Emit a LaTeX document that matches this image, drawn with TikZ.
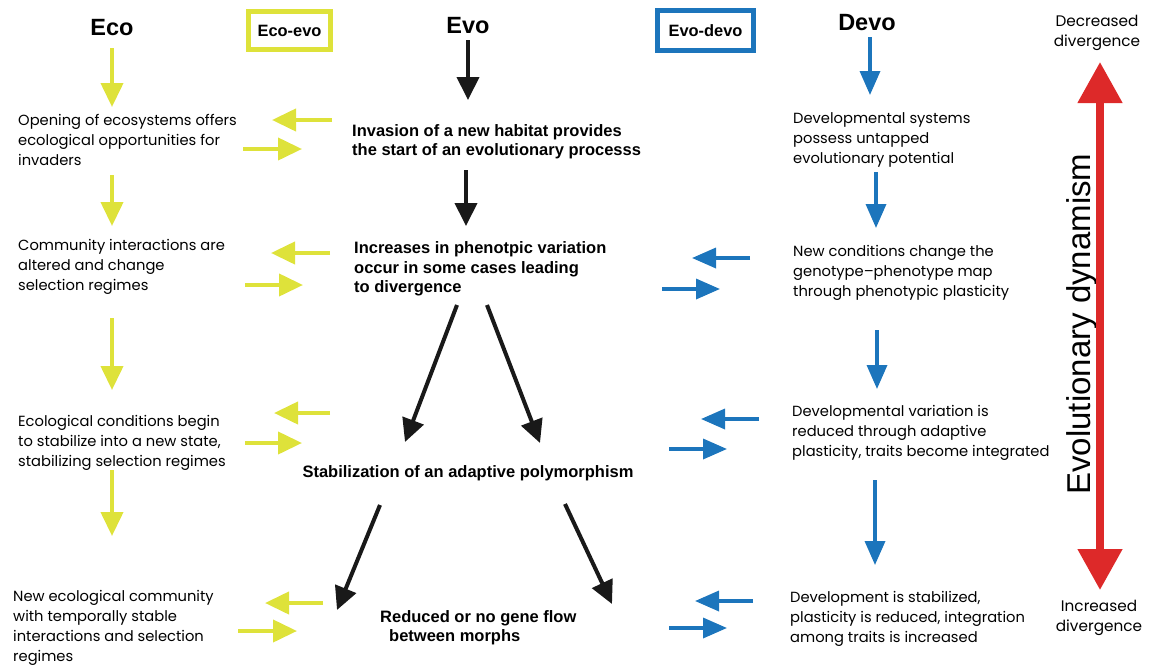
\documentclass[tikz,border=0pt]{standalone}
\usepackage{fontspec}
\setmainfont{Liberation Sans}
\newfontfamily\gothic{Poppins}
\usetikzlibrary{arrows.meta}

\definecolor{ecoyellow}{RGB}{222,226,58}
\definecolor{devoblue}{RGB}{28,117,188}
\definecolor{dynred}{RGB}{221,41,41}

\begin{document}
\begin{tikzpicture}[x=1pt,y=-1pt,
   title/.style={font=\bfseries\fontsize{23.5}{26}\selectfont, anchor=base},
   boxtitle/.style={draw, line width=5pt, font=\bfseries\fontsize{16.4}{18}\selectfont},
   plain/.style={font=\gothic\fontsize{14.7}{20}\selectfont, align=left, anchor=west, inner sep=0},
   evotext/.style={font=\bfseries\fontsize{16.5}{19.3}\selectfont, align=left, anchor=west, inner sep=0},
   ecoarr/.style={ecoyellow, line width=4pt, -{Triangle[length=24pt,width=22pt]}},
   evoarr/.style={black!90, line width=4pt, -{Triangle[length=23pt,width=22pt]}},
   devoarr/.style={devoblue, line width=3.5pt, -{Triangle[length=24pt,width=20pt]}}]
   \useasboundingbox (0,0) rectangle (1151,667);
   % column titles
   \node (eco) at (112,35) [title] {Eco};
   \node (evo) at (468,33) [title] {Evo};
   \node (devo) at (867,30) [title] {Devo};
   \node (ecoevo) at (289.5,30.5) [boxtitle, draw=ecoyellow, minimum width=82pt, minimum height=38pt] {Eco-evo};
   \node (evodevo) at (705.5,30.5) [boxtitle, draw=devoblue, minimum width=96pt, minimum height=40pt] {Evo-devo};
   % eco column
   \node (eco1) at (18,140) [plain] {Opening of ecosystems offers\\ecological opportunities for\\invaders};
   \node (eco2) at (18,267) [plain] {Community interactions are\\altered and change\\selection regimes};
   \node (eco3) at (18,443) [plain] {Ecological conditions begin\\to stabilize into a new state,\\stabilizing selection regimes};
   \node (eco4) at (13,628) [plain] {New ecological community\\with temporally stable\\interactions and selection\\regimes};
   % evo column
   \node (evo1) at (352,142) [evotext] {Invasion of a new habitat provides\\the start of an evolutionary processs};
   \node (evo2) at (354,269) [evotext] {Increases in phenotpic variation\\occur in some cases leading\\to divergence};
   \node (evo3) at (468,473) [evotext, anchor=center] {Stabilization of an adaptive polymorphism};
   \node (evo4) at (380,628) [evotext] {Reduced or no gene flow\\\hspace*{9pt}between morphs};
   % devo column
   \node (devo1) at (793,140) [plain] {Developmental systems\\possess untapped\\evolutionary potential};
   \node (devo2) at (793,273) [plain] {New conditions change the\\genotype–phenotype map\\through phenotypic plasticity};
   \node (devo3) at (792,433) [plain] {Developmental variation is\\reduced through adaptive\\plasticity, traits become integrated};
   \node (devo4) at (790,619) [plain] {Development is stabilized,\\plasticity is reduced, integration\\among traits is increased};
   % dynamism scale
   \node (dec) at (1097,33) [plain, anchor=center, align=center, font=\gothic\fontsize{15.3}{20}\selectfont] {Decreased\\divergence};
   \node (inc) at (1099,618) [plain, anchor=center, align=center, font=\gothic\fontsize{15.3}{20}\selectfont] {Increased\\divergence};
   \node (dyn) at (1090,324) [rotate=90, anchor=base, font=\fontsize{33}{36}\selectfont] {Evolutionary dynamism};
   \coordinate (top) at (1100,62);
   \coordinate (bottom) at (1100,590);
   \draw[dynred, line width=8pt, {Triangle[length=41pt,width=43pt]}-{Triangle[length=41pt,width=43pt]}] (top) -- (bottom);
   % arrows
   \foreach \n/\xa/\ya/\xb/\yb in {ya/112/48/112/107, yb/112/175/112/226, yc/112/318/112/390, yd/112/470/112/536,
      yl1/332/120/272/120, yr1/243/149/302/149, yl2/330/253/271/253, yr2/245/285/303/285,
      yl3/330/413/274/413, yr3/245/443/302/443, yl4/323/603/265/603, yr4/238/631/297/631}
   {
      \coordinate (\n s) at (\xa,\ya);
      \coordinate (\n t) at (\xb,\yb);
      \draw[ecoarr] (\n s) -- (\n t);
   }
   \foreach \n/\xa/\ya/\xb/\yb in {ka/468/40/468/100, kb/466/170/466/226, kc/457/305/405/442, kd/487/305/540/443,
      ke/380/505/337/610, kf/565/504/612/604}
   {
      \coordinate (\n s) at (\xa,\ya);
      \coordinate (\n t) at (\xb,\yb);
      \draw[evoarr] (\n s) -- (\n t);
   }
   \foreach \n/\xa/\ya/\xb/\yb in {ba/870/37/870/95, bb/876/172/876/228, bc/877/330/877/389, bd/875/480/875/565,
      bl2/750/258/692/258, br2/662/289/720/289, bl3/759/419/701/419, br3/669/449/727/449,
      bl4/753/601/695/601, br4/669/628/727/628}
   {
      \coordinate (\n s) at (\xa,\ya);
      \coordinate (\n t) at (\xb,\yb);
      \draw[devoarr] (\n s) -- (\n t);
   }
\end{tikzpicture}
\end{document}
